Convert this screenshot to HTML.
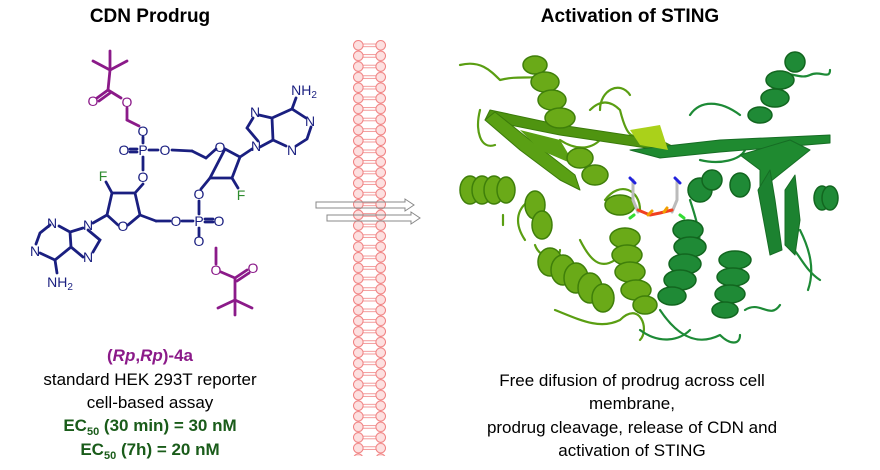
<!DOCTYPE html>
<html><head><meta charset="utf-8"><style>
body{margin:0;background:#fff;width:880px;height:470px;overflow:hidden}
svg{display:block}
text{font-family:"Liberation Sans",Arial,sans-serif}
</style></head><body>
<svg width="880" height="470" viewBox="0 0 880 470" xmlns="http://www.w3.org/2000/svg">
<defs>
<pattern id="mem" x="353" y="40" width="33" height="10.6" patternUnits="userSpaceOnUse">
<circle cx="5.3" cy="5.3" r="4.8" fill="#fde0e0" stroke="#f08080" stroke-width="1"/>
<circle cx="27.7" cy="5.3" r="4.8" fill="#fde0e0" stroke="#f08080" stroke-width="1"/>
<line x1="10" y1="4" x2="23" y2="4" stroke="#f08080" stroke-width="0.8"/>
<line x1="10" y1="6.6" x2="23" y2="6.6" stroke="#f08080" stroke-width="0.8"/>
</pattern>
</defs>
<text x="150" y="22" font-size="19" font-weight="bold" text-anchor="middle">CDN Prodrug</text>
<text x="630" y="22" font-size="19" font-weight="bold" text-anchor="middle">Activation of STING</text>

<rect x="353" y="40" width="33" height="416" fill="url(#mem)"/>
<path d="M316 202 H405 V199 L414 205 L405 211 V208 H316 Z" fill="none" stroke="#888" stroke-width="1"/>
<path d="M327 215 H411 V212 L420 218 L411 224 V221 H327 Z" fill="none" stroke="#888" stroke-width="1"/>

<g stroke-width="2.8" fill="none" stroke-linecap="round">
<g stroke="#8b1a89">
<line x1="110" y1="70" x2="93" y2="61"/><line x1="110" y1="70" x2="127" y2="61"/><line x1="110" y1="70" x2="110" y2="51"/>
<line x1="110" y1="70" x2="108" y2="90"/><line x1="108" y1="90" x2="97" y2="98"/><line x1="110" y1="93" x2="99" y2="101"/>
<line x1="108" y1="90" x2="121" y2="98"/><line x1="127" y1="108" x2="127" y2="120"/><line x1="127" y1="120" x2="139" y2="126"/>
<line x1="216" y1="248" x2="216" y2="264"/><line x1="221" y1="272" x2="235" y2="278"/><line x1="235" y1="278" x2="247" y2="270"/><line x1="237" y1="281" x2="249" y2="273"/>
<line x1="235" y1="278" x2="235" y2="300"/><line x1="235" y1="300" x2="218" y2="308"/><line x1="235" y1="300" x2="252" y2="308"/><line x1="235" y1="300" x2="235" y2="315"/>
</g>
<g stroke="#1a1f80">
<line x1="143" y1="137" x2="143" y2="143"/><line x1="130" y1="149" x2="137" y2="149"/><line x1="130" y1="152" x2="137" y2="152"/><line x1="149" y1="150" x2="158" y2="150"/>
<line x1="143" y1="157" x2="143" y2="170"/><line x1="172" y1="150" x2="192" y2="151"/><line x1="192" y1="151" x2="206" y2="158"/>
<path d="M206 158 L216 149 M225 149 L240 157 L232 178 L210 178 Z"/><line x1="240" y1="157" x2="252" y2="149"/>
<line x1="210" y1="178" x2="201" y2="189"/><line x1="232" y1="178" x2="238" y2="188"/>
<path d="M258 141 L247 128 L253 118 M259 115 L272 118 L273 140 L260 147 M272 118 L292 109 L306 118 M311 127 L307 139 L296 146 M286 146 L273 140"/>
<line x1="292" y1="109" x2="296" y2="98"/>
<line x1="199" y1="201" x2="199" y2="214"/><line x1="205" y1="219" x2="213" y2="219"/><line x1="205" y1="222" x2="213" y2="222"/><line x1="182" y1="221" x2="193" y2="221"/>
<line x1="199" y1="228" x2="199" y2="236"/>
<line x1="143" y1="184" x2="135" y2="193"/>
<path d="M135 193 L112 193 L107 215 L118 225 M128 225 L140 215 L135 193"/><line x1="140" y1="215" x2="156" y2="221"/><line x1="156" y1="221" x2="170" y2="221"/>
<line x1="112" y1="193" x2="106" y2="182"/><line x1="107" y1="215" x2="93" y2="223"/>
<path d="M88 230 L100 240 L93 252 M83 257 L71 247 L70 232 L83 228 M71 247 L55 260 L40 253 M36 244 L40 233 L50 225 M59 226 L70 232"/>
<line x1="55" y1="260" x2="57" y2="273"/>
</g>
</g>
<g font-size="14" fill="#1a1f80" text-anchor="middle">
<text x="93" y="106" fill="#8b1a89">O</text><text x="127" y="107" fill="#8b1a89">O</text>
<text x="143" y="136">O</text><text x="124" y="155">O</text><text x="143" y="155">P</text><text x="165" y="155">O</text><text x="143" y="182">O</text>
<text x="220" y="152">O</text><text x="256" y="151">N</text><text x="255" y="117">N</text><text x="310" y="126">N</text><text x="292" y="155">N</text>
<text x="304" y="95">NH<tspan font-size="10" dy="3">2</tspan></text>
<text x="241" y="200" fill="#2e8b2e">F</text><text x="103" y="181" fill="#2e8b2e">F</text>
<text x="199" y="199">O</text><text x="199" y="226">P</text><text x="219" y="226">O</text><text x="176" y="226">O</text><text x="199" y="246">O</text>
<text x="216" y="275" fill="#8b1a89">O</text><text x="253" y="273" fill="#8b1a89">O</text>
<text x="123" y="231">O</text><text x="88" y="230">N</text><text x="88" y="262">N</text><text x="52" y="228">N</text><text x="35" y="256">N</text>
<text x="60" y="287">NH<tspan font-size="10" dy="3">2</tspan></text>
</g>

<text x="150" y="361" font-size="17" font-weight="bold" fill="#8b1a89" text-anchor="middle">(<tspan font-style="italic">Rp</tspan>,<tspan font-style="italic">Rp</tspan>)-4a</text>
<text x="150" y="385" font-size="17" text-anchor="middle">standard HEK 293T reporter</text>
<text x="150" y="408" font-size="17" text-anchor="middle">cell-based assay</text>
<text x="150" y="431" font-size="17" font-weight="bold" fill="#1a5c1a" text-anchor="middle">EC<tspan font-size="11" dy="4">50</tspan><tspan dy="-4"> (30 min) = 30 nM</tspan></text>
<text x="150" y="455" font-size="17" font-weight="bold" fill="#1a5c1a" text-anchor="middle">EC<tspan font-size="11" dy="4">50</tspan><tspan dy="-4"> (7h) = 20 nM</tspan></text>

<g font-size="17" text-anchor="middle">
<text x="632" y="386">Free difusion of prodrug across cell</text>
<text x="632" y="409">membrane,</text>
<text x="632" y="433">prodrug cleavage, release of CDN and</text>
<text x="632" y="456">activation of STING</text>
</g>

<g fill="none" stroke-linecap="round" stroke-linejoin="round">
<g stroke="#5a9e12" stroke-width="2.2">
<path d="M460 65 C480 60 490 70 500 80 C520 75 530 80 545 75"/>
<path d="M590 110 C600 100 610 100 620 110 C625 130 630 140 640 135"/>
<path d="M480 110 C475 130 480 150 495 145"/>
<path d="M580 240 C590 260 600 270 615 260 M605 200 C620 180 640 190 640 210"/>
<path d="M555 310 C580 320 600 330 620 320 C640 300 650 330 640 340"/>
<path d="M503 215 L503 225 M535 245 C540 260 560 260 560 250"/>
<path d="M525 240 C515 225 515 210 530 200 M560 140 C575 150 590 150 600 140"/>
<path d="M600 110 C600 90 620 80 630 95"/>
</g>
<g stroke="#1d8a36" stroke-width="2.2">
<path d="M690 115 C700 100 720 100 740 115 M770 75 C790 70 800 80 810 75 C820 70 830 80 830 70"/>
<path d="M660 310 C680 340 700 345 720 335 C730 345 740 345 740 335"/>
<path d="M745 310 C760 300 770 320 780 305 M790 245 C800 255 805 270 820 280"/>
<path d="M690 200 C700 230 705 250 690 260"/>
<path d="M800 230 C810 250 815 270 808 290 M700 160 C720 165 740 160 745 150"/>
<path d="M640 330 C660 345 680 340 690 330"/>
</g>
<path d="M485 120 L560 135 L660 150 L680 150 L660 140 L560 125 L490 110 Z" fill="#4f9410" stroke="#3a7a0a" stroke-width="1"/>
<path d="M485 120 L520 150 L560 180 L580 190 L575 175 L530 140 L495 112 Z" fill="#5aa014" stroke="#3a7a0a" stroke-width="1"/>
<path d="M520 130 L540 150 L575 165 L560 140 Z" fill="#5aa014"/>
<path d="M630 150 L720 140 L830 135 L830 143 L720 152 L660 158 Z" fill="#1f8a30" stroke="#166d24" stroke-width="1"/>
<path d="M740 155 L790 140 L810 150 L760 190 L760 170 Z" fill="#1f8a30" stroke="#166d24" stroke-width="1"/>
<path d="M758 190 L770 170 L775 200 L782 250 L770 255 Z" fill="#1c8230" stroke="#166d24"/>
<path d="M785 190 L795 175 L800 220 L795 255 L785 245 Z" fill="#1c8230" stroke="#166d24"/>
<path d="M630 130 L660 125 L668 150 L640 145 Z" fill="#aad11a"/>
<g fill="#6aaa18" stroke="#3f7f0a" stroke-width="1.5">
<ellipse cx="470" cy="190" rx="10" ry="14"/><ellipse cx="482" cy="190" rx="10" ry="14"/><ellipse cx="494" cy="190" rx="10" ry="14"/><ellipse cx="506" cy="190" rx="9" ry="13"/>
<ellipse cx="535" cy="65" rx="12" ry="9"/><ellipse cx="545" cy="82" rx="14" ry="10"/><ellipse cx="552" cy="100" rx="14" ry="10"/><ellipse cx="560" cy="118" rx="15" ry="10"/>
<ellipse cx="580" cy="158" rx="13" ry="10"/><ellipse cx="595" cy="175" rx="13" ry="10"/>
<ellipse cx="535" cy="205" rx="10" ry="14"/><ellipse cx="542" cy="225" rx="10" ry="14"/>
<ellipse cx="550" cy="262" rx="12" ry="14"/><ellipse cx="563" cy="270" rx="12" ry="15"/><ellipse cx="576" cy="278" rx="12" ry="15"/><ellipse cx="590" cy="288" rx="12" ry="15"/><ellipse cx="603" cy="298" rx="11" ry="14"/>
<ellipse cx="625" cy="238" rx="15" ry="10"/><ellipse cx="627" cy="255" rx="15" ry="10"/><ellipse cx="630" cy="272" rx="15" ry="10"/><ellipse cx="636" cy="290" rx="15" ry="10"/>
<ellipse cx="620" cy="205" rx="15" ry="10"/><ellipse cx="645" cy="305" rx="12" ry="9"/>
</g>
<g fill="#1f8a36" stroke="#12661f" stroke-width="1.5">
<ellipse cx="795" cy="62" rx="10" ry="10"/><ellipse cx="780" cy="80" rx="14" ry="9"/><ellipse cx="775" cy="98" rx="14" ry="9"/><ellipse cx="760" cy="115" rx="12" ry="8"/>
<ellipse cx="700" cy="190" rx="12" ry="12"/><ellipse cx="712" cy="180" rx="10" ry="10"/><ellipse cx="740" cy="185" rx="10" ry="12"/>
<ellipse cx="688" cy="230" rx="15" ry="10"/><ellipse cx="690" cy="247" rx="16" ry="10"/><ellipse cx="685" cy="264" rx="16" ry="10"/><ellipse cx="680" cy="280" rx="16" ry="10"/><ellipse cx="672" cy="296" rx="14" ry="9"/>
<ellipse cx="735" cy="260" rx="16" ry="9"/><ellipse cx="733" cy="277" rx="16" ry="9"/><ellipse cx="730" cy="294" rx="15" ry="9"/><ellipse cx="725" cy="310" rx="13" ry="8"/>
<ellipse cx="822" cy="198" rx="8" ry="12"/><ellipse cx="830" cy="198" rx="8" ry="12"/>
</g>
<g stroke-width="3">
<path d="M633 180 L633 200 L638 212" stroke="#bbb"/><path d="M677 180 L677 200 L672 212" stroke="#bbb"/>
<path d="M630 178 l5 5 M675 178 l5 5" stroke="#2222dd"/>
<path d="M638 210 L650 215 L660 213 L672 210" stroke="#f04020"/>
<path d="M648 215 l4 -4 M664 212 l3 -4" stroke="#f0a000"/>
<path d="M630 218 l4 -3 M680 215 l4 3" stroke="#33dd33"/>
</g>
</g>
</svg>
</body></html>
